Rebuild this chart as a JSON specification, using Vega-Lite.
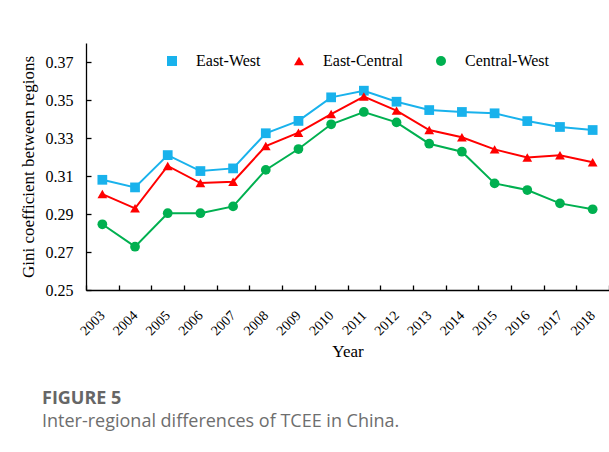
{
  "$schema": "https://vega.github.io/schema/vega-lite/v6.json",
  "width": 523,
  "height": 247,
  "autosize": {"type": "none"},
  "padding": {"left": 86, "top": 43, "right": 0, "bottom": 162},
  "background": "white",
  "config": {
    "view": {"stroke": null},
    "axis": {"grid": false}
  },
  "title": {
    "text": "FIGURE 5",
    "subtitle": "Inter-regional differences of TCEE in China.",
    "orient": "bottom",
    "anchor": "start",
    "frame": "group",
    "dx": -44,
    "offset": 30,
    "font": "Open Sans",
    "fontSize": 18,
    "fontWeight": "bold",
    "color": "#666666",
    "subtitleFont": "Open Sans",
    "subtitleFontSize": 18,
    "subtitleColor": "#6e6e6e",
    "subtitlePadding": 5
  },
  "data": {
    "values": [
      {"year": "2003", "region": "East-West", "value": 0.308},
      {"year": "2004", "region": "East-West", "value": 0.304},
      {"year": "2005", "region": "East-West", "value": 0.321},
      {"year": "2006", "region": "East-West", "value": 0.3126},
      {"year": "2007", "region": "East-West", "value": 0.314},
      {"year": "2008", "region": "East-West", "value": 0.3325},
      {"year": "2009", "region": "East-West", "value": 0.339},
      {"year": "2010", "region": "East-West", "value": 0.3514},
      {"year": "2011", "region": "East-West", "value": 0.3549},
      {"year": "2012", "region": "East-West", "value": 0.3491},
      {"year": "2013", "region": "East-West", "value": 0.3447},
      {"year": "2014", "region": "East-West", "value": 0.3437},
      {"year": "2015", "region": "East-West", "value": 0.343},
      {"year": "2016", "region": "East-West", "value": 0.3389},
      {"year": "2017", "region": "East-West", "value": 0.3358},
      {"year": "2018", "region": "East-West", "value": 0.3342},
      {"year": "2003", "region": "East-Central", "value": 0.3005},
      {"year": "2004", "region": "East-Central", "value": 0.293},
      {"year": "2005", "region": "East-Central", "value": 0.3153},
      {"year": "2006", "region": "East-Central", "value": 0.3063},
      {"year": "2007", "region": "East-Central", "value": 0.307},
      {"year": "2008", "region": "East-Central", "value": 0.3258},
      {"year": "2009", "region": "East-Central", "value": 0.3328},
      {"year": "2010", "region": "East-Central", "value": 0.3426},
      {"year": "2011", "region": "East-Central", "value": 0.3518},
      {"year": "2012", "region": "East-Central", "value": 0.3444},
      {"year": "2013", "region": "East-Central", "value": 0.3342},
      {"year": "2014", "region": "East-Central", "value": 0.3304},
      {"year": "2015", "region": "East-Central", "value": 0.324},
      {"year": "2016", "region": "East-Central", "value": 0.3197},
      {"year": "2017", "region": "East-Central", "value": 0.3209},
      {"year": "2018", "region": "East-Central", "value": 0.3172},
      {"year": "2003", "region": "Central-West", "value": 0.2846},
      {"year": "2004", "region": "Central-West", "value": 0.2728},
      {"year": "2005", "region": "Central-West", "value": 0.2904},
      {"year": "2006", "region": "Central-West", "value": 0.2904},
      {"year": "2007", "region": "Central-West", "value": 0.294},
      {"year": "2008", "region": "Central-West", "value": 0.3132},
      {"year": "2009", "region": "Central-West", "value": 0.3242},
      {"year": "2010", "region": "Central-West", "value": 0.3372},
      {"year": "2011", "region": "Central-West", "value": 0.3437},
      {"year": "2012", "region": "Central-West", "value": 0.3382},
      {"year": "2013", "region": "Central-West", "value": 0.327},
      {"year": "2014", "region": "Central-West", "value": 0.3228},
      {"year": "2015", "region": "Central-West", "value": 0.3061},
      {"year": "2016", "region": "Central-West", "value": 0.3026},
      {"year": "2017", "region": "Central-West", "value": 0.2956},
      {"year": "2018", "region": "Central-West", "value": 0.2925}
    ]
  },
  "encoding": {
    "x": {
      "field": "year",
      "type": "ordinal",
      "title": "Year",
      "scale": {"type": "band", "paddingInner": 0, "paddingOuter": 0},
      "axis": {
        "tickBand": "extent",
        "labelAngle": -45,
        "labelAlign": "right",
        "labelBaseline": "middle",
        "labelFont": "Liberation Serif",
        "labelFontSize": 14,
        "labelColor": "#000",
        "labelPadding": 28,
        "tickSize": -5,
        "tickColor": "#000",
        "tickWidth": 1.3,
        "domainColor": "#000",
        "domainWidth": 1.3,
        "titleFont": "Liberation Serif",
        "titleFontSize": 17,
        "titleFontWeight": "normal",
        "titleColor": "#000",
        "titlePadding": 6
      }
    },
    "y": {
      "field": "value",
      "type": "quantitative",
      "title": "Gini coefficient between regions",
      "scale": {"domain": [0.25, 0.38], "nice": false, "zero": false},
      "axis": {
        "values": [0.25, 0.27, 0.29, 0.31, 0.33, 0.35, 0.37],
        "format": ".2f",
        "labelFont": "Liberation Serif",
        "labelFontSize": 16,
        "labelColor": "#000",
        "labelPadding": 18,
        "tickSize": -5,
        "tickColor": "#000",
        "tickWidth": 1.3,
        "domainColor": "#000",
        "domainWidth": 1.3,
        "titleFont": "Liberation Serif",
        "titleFontSize": 17,
        "titleFontWeight": "normal",
        "titleColor": "#000",
        "titlePadding": 8
      }
    }
  },
  "layer": [
    {
      "mark": {"type": "line", "strokeWidth": 2},
      "encoding": {
        "detail": {"field": "region", "type": "nominal"},
        "color": {
          "condition": [
            {"test": "datum.region === 'East-West'", "value": "#19b2ec"},
            {"test": "datum.region === 'East-Central'", "value": "#ff0000"}
          ],
          "value": "#00b050"
        }
      }
    },
    {
      "mark": {"type": "point", "filled": true, "size": 95, "opacity": 1},
      "encoding": {
        "color": {
          "field": "region",
          "type": "nominal",
          "scale": {
            "domain": ["East-West", "East-Central", "Central-West"],
            "range": ["#19b2ec", "#ff0000", "#00b050"]
          },
          "legend": {
            "title": null,
            "orient": "none",
            "direction": "horizontal",
            "legendX": 78,
            "legendY": 10,
            "labelFont": "Liberation Serif",
            "labelFontSize": 16,
            "labelColor": "#000",
            "symbolSize": 100,
            "labelOffset": 16,
            "columnPadding": 30
          }
        },
        "shape": {
          "field": "region",
          "type": "nominal",
          "scale": {
            "domain": ["East-West", "East-Central", "Central-West"],
            "range": ["square", "triangle-up", "circle"]
          },
          "legend": null
        }
      }
    }
  ]
}
